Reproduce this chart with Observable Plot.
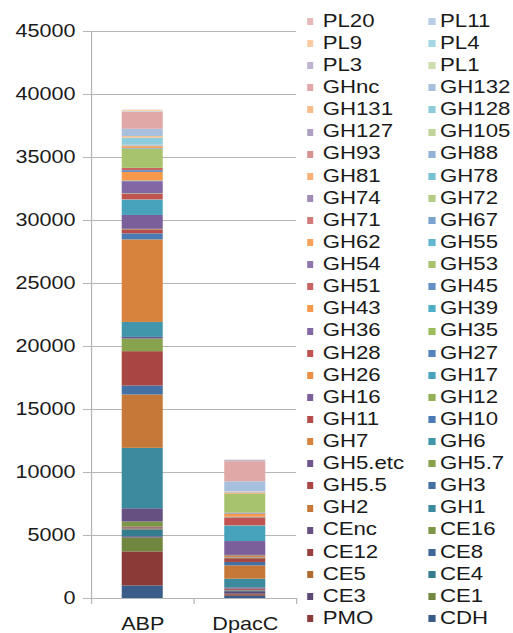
<!DOCTYPE html>
<html><head><meta charset="utf-8">
<script src="https://cdn.jsdelivr.net/npm/d3@7"></script>
<script src="https://cdn.jsdelivr.net/npm/@observablehq/plot@0.6"></script>
<style>
html,body{margin:0;padding:0;background:#fff;}
#wrap{position:relative;width:427.5px;height:633px;transform:scaleX(1.2);transform-origin:0 0;font-family:"Liberation Sans",Arial,sans-serif;color:#1a1a1a;overflow:visible;}
#chart{position:absolute;left:0;top:0;}
.lt{position:absolute;font-size:18.5px;line-height:18.5px;white-space:nowrap;}
.sw{position:absolute;width:5.8px;height:7px;}
</style></head><body>
<div id="wrap"><div id="chart"></div><div id="legend"></div></div>
<script>
const categories = ["ABP", "DpacC"];
const series = ["CDH","PMO","CE1","CE3","CE4","CE5","CE8","CE12","CE16","CEnc",
  "GH1","GH2","GH3","GH5.5","GH5.7","GH5.etc","GH6","GH7","GH10","GH11","GH12","GH16","GH17","GH26","GH27","GH28","GH35","GH36","GH39","GH43","GH45","GH51","GH53","GH54","GH55","GH62","GH67","GH71","GH72","GH74","GH78","GH81","GH88","GH93","GH105","GH127","GH128","GH131","GH132","GHnc",
  "PL1","PL3","PL4","PL9","PL11","PL20"];
const abpValues = [1000,2700,1100,100,550,80,60,80,400,1050,
  4800,4230,715,2725,1000,130,1190,6550,480,320,40,1100,1190,40,30,420,40,960,50,680,150,180,1500,30,40,150,10,10,10,10,20,10,20,10,10,10,560,120,580,1350,
  30,20,20,80,10,10];
const dpaccValues = [180,120,40,200,50,30,30,80,20,90,
  690,1060,270,300,20,20,30,100,30,40,20,1100,1220,20,20,600,20,30,20,250,60,20,1480,10,10,60,10,10,10,10,10,10,10,10,10,10,20,20,780,1600,
  10,80,10,10,10,10];
const yTicks = [0,5000,10000,15000,20000,25000,30000,35000,40000,45000];

const valuesByCategory = [abpValues, dpaccValues];

// Excel-like palette: 6 accents, shaded from dark to light per cycle
const baseColors = ["#4F81BD","#C0504D","#9BBB59","#8064A2","#4BACC6","#F79646"];
const shades = [-0.28,-0.2,-0.13,-0.05,0.02,0.12,0.25,0.38,0.5,0.6];
function shadeColor(hex, t) {
  const c = d3.rgb(hex), tg = t < 0 ? 0 : 255, a = Math.abs(t);
  return d3.rgb(c.r + (tg - c.r) * a, c.g + (tg - c.g) * a, c.b + (tg - c.b) * a).formatHex();
}
const colors = series.map((s, i) => shadeColor(baseColors[i % 6], shades[Math.floor(i / 6)]));

const rows = [];
categories.forEach((cat, ci) => {
  const vals = valuesByCategory[ci];
  const ends = d3.cumsum(vals);
  series.forEach((s, si) => {
    rows.push({cat, ci, series: s, y1: ends[si] - vals[si], y2: ends[si]});
  });
});

const W = 250, marginLeft = 75.8, marginRight = 3.3;
const band = (W - marginLeft - marginRight) / categories.length;
const inset = band * 0.3;
const gray = "#b5b5b5";

const chart = Plot.plot({
  width: W, height: 633,
  marginLeft, marginRight, marginTop: 31, marginBottom: 35,
  style: {fontFamily: '"Liberation Sans", Arial, sans-serif', fontSize: "18px", color: "#1a1a1a", background: "transparent", overflow: "visible"},
  x: {domain: [0, categories.length], axis: null},
  y: {domain: [0, 45000], axis: null},
  color: {domain: series, range: colors},
  marks: [
    Plot.gridY({ticks: yTicks, stroke: gray, strokeOpacity: 1}),
    Plot.axisY({ticks: yTicks, tickSize: 6.7, tickPadding: 6.7, stroke: gray, tickFormat: d => String(d), fontSize: 18}),
    Plot.rect(rows, {x1: d => d.ci, x2: d => d.ci + 1, y1: "y1", y2: "y2", fill: "series", insetLeft: inset, insetRight: inset}),
    Plot.ruleX([0], {stroke: gray}),
    Plot.ruleY([0], {stroke: gray}),
    Plot.axisX({ticks: d3.range(categories.length + 1), tickSize: 6, tickFormat: () => "", stroke: gray}),
    Plot.axisX({ticks: categories.map((c, i) => i + 0.5), tickSize: 0, tickPadding: 18.5, tickFormat: d => categories[Math.floor(d)], fontSize: 18})
  ]
});
document.getElementById("chart").appendChild(chart);

// Legend (Excel order: reversed, two columns)
const legend = document.getElementById("legend");
const rev = series.map((s, i) => ({s, c: colors[i]})).reverse();
const colSw = [255.6, 356.9], colTx = [268.9, 366.7];
rev.forEach((d, k) => {
  const r = Math.floor(k / 2), c = k % 2;
  const yc = 20.7 + r * 22.12;
  const sw = document.createElement("div");
  sw.className = "sw";
  sw.style.left = colSw[c] + "px";
  sw.style.top = (yc - 2.8) + "px";
  sw.style.background = d.c;
  legend.appendChild(sw);
  const t = document.createElement("div");
  t.className = "lt";
  t.style.left = colTx[c] + "px";
  t.style.top = (yc - 9) + "px";
  t.textContent = d.s;
  legend.appendChild(t);
});
</script>
</body></html>
